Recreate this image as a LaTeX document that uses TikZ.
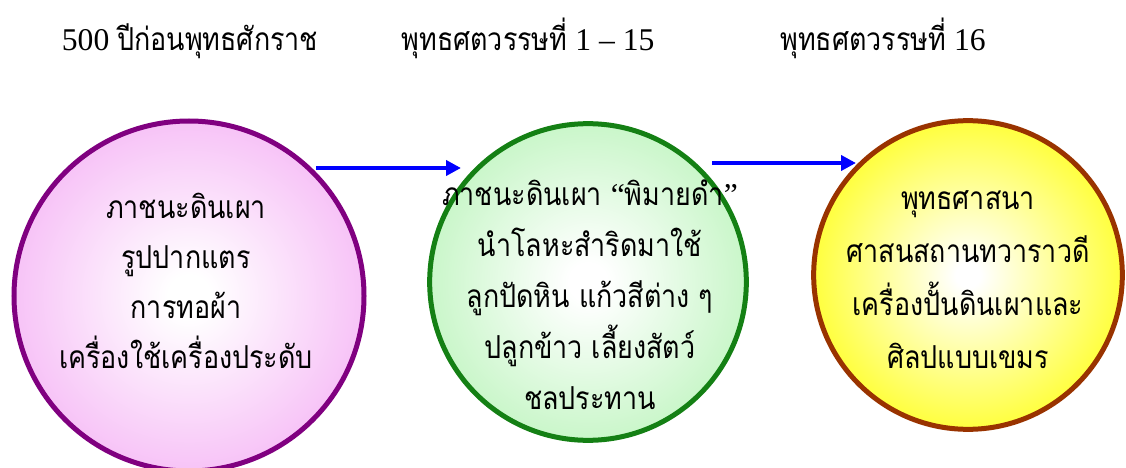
\documentclass[tikz,border=0pt]{standalone}
\usepackage{fontspec}
\setmainfont{Liberation Serif}
\newfontfamily\thaifont[Script=Thai,FakeStretch=0.85]{Loma}
\usepackage{tikz}
\usetikzlibrary{calc,positioning,shapes,arrows,arrows.meta}

\definecolor{pinkedge}{RGB}{243,165,243}
\definecolor{pinkline}{RGB}{128,0,128}
\definecolor{greenedge}{RGB}{175,242,175}
\definecolor{greenline}{RGB}{20,128,20}
\definecolor{yellowedge}{RGB}{255,255,20}
\definecolor{yellowline}{RGB}{153,51,0}
\definecolor{flowblue}{RGB}{0,0,255}

\pgfdeclareradialshading{pinkball}{\pgfpoint{0bp}{0bp}}{color(0bp)=(white); color(3bp)=(white); color(36bp)=(pinkedge); color(50bp)=(pinkedge)}
\pgfdeclareradialshading{greenball}{\pgfpoint{0bp}{0bp}}{color(0bp)=(white); color(3bp)=(white); color(36bp)=(greenedge); color(50bp)=(greenedge)}
\pgfdeclareradialshading{yellowball}{\pgfpoint{0bp}{0bp}}{color(0bp)=(white); color(2bp)=(white); color(30bp)=(yellowedge); color(50bp)=(yellowedge)}

\tikzstyle{era}=[shape=circle, draw, line width=1.5mm, inner sep=0mm]
\tikzstyle{eratext}=[align=center, anchor=base, inner sep=0mm]
\tikzstyle{head}=[anchor=base, inner sep=0mm, font=\fontsize{27}{30}\selectfont]
\tikzstyle{flow}=[flowblue, line width=1.2mm, -{Triangle[length=4.5mm,width=4.5mm]}]

\begin{document}
\begin{tikzpicture}[x=0.3mm,y=-0.3mm]
\useasboundingbox (0,0) rectangle (1126,468);
\clip (0,0) rectangle (1126,468);

\node (h1) [head] at (190,51) {500 {\thaifont ปีก่อนพุทธศักราช}};
\node (h2) [head] at (528,51) {{\thaifont พุทธศตวรรษที่} 1 – 15};
\node (h3) [head] at (883,51) {{\thaifont พุทธศตวรรษที่} 16};

\node (c1) [era, draw=pinkline, shading=pinkball, minimum size=105mm] at (189,296) {};
\node (c2) [era, draw=greenline, shading=greenball, minimum size=95mm] at (588,282) {};
\node (c3) [era, draw=yellowline, shading=yellowball, minimum size=92.6mm] at (968,275) {};

% base anchor = last line
\node (t1) [eratext, font=\thaifont\fontsize{27}{42.6}\selectfont] at (186,368)
  {ภาชนะดินเผา\\ รูปปากแตร\\ การทอผ้า\\ เครื่องใช้เครื่องประดับ};
\node (t2) [eratext, font=\thaifont\fontsize{27}{43.4}\selectfont] at (590,409)
  {ภาชนะดินเผา {\normalfont “}พิมายดำ{\normalfont ”}\\ นำโลหะสำริดมาใช้\\ ลูกปัดหิน แก้วสีต่าง ๆ\\ ปลูกข้าว เลี้ยงสัตว์\\ ชลประทาน};
\node (t3) [eratext, font=\thaifont\fontsize{27}{45.1}\selectfont] at (968,368)
  {พุทธศาสนา\\ ศาสนสถานทวาราวดี\\ เครื่องปั้นดินเผาและ\\ ศิลปแบบเขมร};

\coordinate (a1s) at (316,168);
\coordinate (a1e) at (461,168);
\coordinate (a2s) at (712,163);
\coordinate (a2e) at (856,163);
\draw[flow] (a1s) -- (a1e);
\draw[flow] (a2s) -- (a2e);

\end{tikzpicture}
\end{document}
